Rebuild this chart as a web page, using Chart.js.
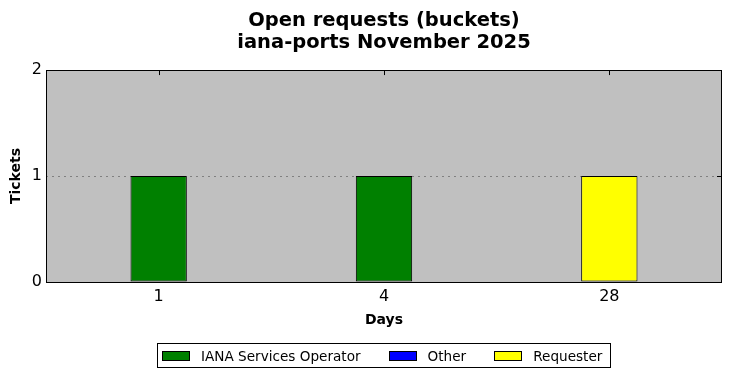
<!DOCTYPE html>
<html>
<head>
<meta charset="utf-8">
<script src="https://cdn.jsdelivr.net/npm/chart.js@4"></script>
<style>
  body { margin: 0; background: #fff; }
  #wrap { position: relative; width: 731px; height: 378px; }
  #legend {
    position: absolute; left: 157px; top: 343px; width: 452px; height: 23px;
    border: 1px solid #000; display: flex; align-items: center; white-space: nowrap;
    font: 13.6px "DejaVu Sans", sans-serif; color: #000;
  }
  #legend span.item { display: flex; align-items: center; flex: none; margin-left: 4px; margin-right: 24px; }
  #legend span.sw { display: inline-block; width: 26px; height: 8px; border: 1px solid #000; margin-right: 11px; }
</style>
</head>
<body>
<div id="wrap">
  <canvas id="myChart"></canvas>
  <div id="legend"></div>
</div>
<script>
'use strict'

// jours (buckets)
const days = ['1', '4', '28'];
const operatorTickets = [1, 1, 0];
const otherTickets = [0, 0, 0];
const requesterTickets = [0, 0, 1];
const yTicks = [0, 1, 2];

const seriesNames = ['IANA Services Operator', 'Other', 'Requester'];
const seriesColors = ['#008000', '#0000ff', '#ffff00'];

// fond gris + cadre + petits traits vers l'interieur
const plotFrame = {
  id: 'plotFrame',
  afterLayout(chart) {
    // titre centre sur la zone du graphe
    if (chart.titleBlock) {
      chart.titleBlock.left = chart.chartArea.left;
      chart.titleBlock.right = chart.chartArea.right;
      chart.titleBlock.width = chart.chartArea.right - chart.chartArea.left;
    }
  },
  beforeDraw(chart) {
    const a = chart.chartArea;
    const c = chart.ctx;
    c.save();
    c.fillStyle = '#c0c0c0';
    c.fillRect(a.left, a.top, a.right - a.left, a.bottom - a.top);
    c.restore();
  },
  beforeDatasetsDraw(chart) {
    const a = chart.chartArea;
    const c = chart.ctx;
    c.save();
    c.strokeStyle = '#000';
    c.lineWidth = 1;
    c.beginPath();
    for (let i = 0; i < days.length; i++) {
      const x = Math.round(chart.scales.x.getPixelForValue(i)) + 0.5;
      c.moveTo(x, a.top);
      c.lineTo(x, a.top + 5);
    }
    for (let i = 0; i < yTicks.length; i++) {
      const y = Math.round(chart.scales.y.getPixelForValue(yTicks[i])) + 0.5;
      c.moveTo(a.right, y);
      c.lineTo(a.right - 5, y);
    }
    c.stroke();
    c.restore();
  },
  afterDraw(chart) {
    const a = chart.chartArea;
    const c = chart.ctx;
    c.save();
    c.strokeStyle = '#000';
    c.lineWidth = 1;
    c.strokeRect(Math.round(a.left) + 0.5, Math.round(a.top) + 0.5,
      Math.round(a.right - a.left) - 1, Math.round(a.bottom - a.top));
    c.restore();
  }
};

let ctx = document.getElementById('myChart');
ctx.width = 731;
ctx.height = 378;

new Chart(ctx, {
  type: 'bar',
  data: {
    labels: days,
    datasets: [{
      label: seriesNames[0],
      data: operatorTickets,
      backgroundColor: seriesColors[0],
      borderColor: '#000',
      borderWidth: 1,
      borderSkipped: false
    }, {
      label: seriesNames[1],
      data: otherTickets,
      backgroundColor: seriesColors[1],
      borderColor: '#000',
      borderWidth: 1,
      borderSkipped: false
    }, {
      label: seriesNames[2],
      data: requesterTickets,
      backgroundColor: seriesColors[2],
      borderColor: '#000',
      borderWidth: 1,
      borderSkipped: false
    }]
  },
  options: {
    responsive: false,
    animation: false,
    barPercentage: 0.25,
    categoryPercentage: 1,
    layout: { padding: { left: 0, right: 9, bottom: 49, top: 0 } },
    plugins: {
      legend: { display: false },
      tooltip: { enabled: false },
      title: {
        display: true,
        text: ['Open requests (buckets)', 'iana-ports November 2025'],
        color: '#000',
        font: { family: 'DejaVu Sans', size: 19.5, weight: 'bold', lineHeight: 1.13 },
        padding: { top: 10, bottom: 16 }
      }
    },
    scales: {
      x: {
        stacked: true,
        grid: { display: false, drawTicks: false },
        border: { display: false },
        ticks: { color: '#000', font: { family: 'DejaVu Sans', size: 16 }, padding: 5 },
        title: {
          display: true, text: 'Days', color: '#000',
          font: { family: 'DejaVu Sans', size: 14, weight: 'bold' },
          padding: { top: 0, bottom: 0 }
        },
        afterFit(scale) { scale.height = 47; }
      },
      y: {
        stacked: true,
        min: 0,
        max: 2,
        afterBuildTicks(scale) { scale.ticks = yTicks.map(v => ({ value: v })); },
        grid: {
          drawTicks: false,
          color: (c) => c.tick && c.tick.value === 1 ? '#808080' : 'rgba(0,0,0,0)',
          lineWidth: 1
        },
        border: { display: false, dash: [2, 4] },
        ticks: { color: '#000', font: { family: 'DejaVu Sans', size: 16 }, padding: 4 },
        title: {
          display: true, text: 'Tickets', color: '#000',
          font: { family: 'DejaVu Sans', size: 14, weight: 'bold' },
          padding: { top: 8, bottom: 0 }
        },
        afterFit(scale) { scale.width = 46; }
      }
    }
  },
  plugins: [plotFrame]
});

// legende en html
let leg = document.getElementById('legend');
for (let i = 0; i < seriesNames.length; i++) {
  leg.innerHTML += '<span class="item"><span class="sw" style="background:' +
    seriesColors[i] + '"></span>' + seriesNames[i] + '</span>';
}
</script>
</body>
</html>
